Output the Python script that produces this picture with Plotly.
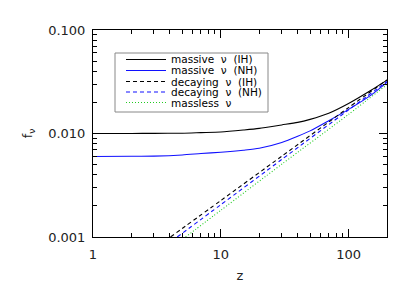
import plotly.graph_objects as go

# ---- data ----
z_massive = [1, 2, 3, 5, 7, 10, 15, 20, 30, 40, 50, 70, 100, 150, 200]
f_massive_IH = [0.0100, 0.01001, 0.01003, 0.01007, 0.0102, 0.01035, 0.0108, 0.0112,
                0.0121, 0.0128, 0.0137, 0.0157, 0.0195, 0.0262, 0.0328]
f_massive_NH = [0.0060, 0.00602, 0.00605, 0.0062, 0.0064, 0.0066, 0.0069, 0.0072,
                0.0082, 0.0094, 0.0106, 0.0133, 0.0171, 0.0235, 0.0312]

z_decay_IH = [4.04, 10, 30, 100, 200]
f_decay_IH = [0.0010, 0.00225, 0.00603, 0.0178, 0.0330]
z_decay_NH = [4.56, 10, 30, 100, 200]
f_decay_NH = [0.0010, 0.00205, 0.00561, 0.0169, 0.0318]
z_massless = [5.3, 10, 30, 100, 200]
f_massless = [0.0010, 0.00181, 0.00505, 0.0153, 0.0297]

labels = ["massive\u00a0\u00a0ν\u00a0\u00a0(IH)", "massive\u00a0\u00a0ν\u00a0\u00a0(NH)",
          "decaying\u00a0\u00a0ν\u00a0\u00a0(IH)", "decaying\u00a0\u00a0ν\u00a0\u00a0(NH)",
          "massless\u00a0\u00a0ν"]
colors = ["#000000", "#1010ff", "#000000", "#1010ff", "#22cc22"]
dashes = ["solid", "solid", "4px,3px", "4px,3px", "1px,2px"]

x_ticks = [1, 10, 100]
x_ticktext = ["1", "10", "100"]
x_minor = [2, 3, 4, 5, 6, 7, 8, 9, 20, 30, 40, 50, 60, 70, 80, 90, 200]
y_ticks = [0.001, 0.01, 0.1]
y_ticktext = ["0.001", "0.010", "0.100"]
y_minor = [0.002, 0.003, 0.004, 0.005, 0.006, 0.007, 0.008, 0.009,
           0.02, 0.03, 0.04, 0.05, 0.06, 0.07, 0.08, 0.09]

series = [(z_massive, f_massive_IH), (z_massive, f_massive_NH),
          (z_decay_IH, f_decay_IH), (z_decay_NH, f_decay_NH),
          (z_massless, f_massless)]

fig = go.Figure()
for (xs, ys), name, c, d in zip(series, labels, colors, dashes):
    fig.add_trace(go.Scatter(x=xs, y=ys, mode="lines", name=name,
                             line=dict(color=c, width=1.1, dash=d,
                                       shape="spline", smoothing=0.7),
                             showlegend=False))

# ---- layout geometry (pixels, in window coordinates; page body has 8px margin) ----
W, H = 415, 297
OFF = 8
L, R, T, B = 93 - OFF, 28 + OFF, 30 - OFF, 60 + OFF
pw, ph = W - L - R, H - T - B


def px(xp):
    return (xp - OFF - L) / pw


def py(yp):
    return (H - B - (yp - OFF)) / ph


shapes = []
annotations = []
# legend box
shapes.append(dict(type="rect", xref="paper", yref="paper",
                   x0=px(115), x1=px(268), y0=py(112), y1=py(53),
                   line=dict(color="#888888", width=1), fillcolor="white"))
row_y = [59.5, 70.5, 81.5, 92, 102.5]
for yy, name, c, d in zip(row_y, labels, colors, dashes):
    shapes.append(dict(type="line", xref="paper", yref="paper",
                       x0=px(126), x1=px(166), y0=py(yy), y1=py(yy),
                       line=dict(color=c, width=1.1, dash=d)))
    annotations.append(dict(xref="paper", yref="paper", x=px(169), y=py(yy),
                            text=name, showarrow=False, xanchor="left",
                            yanchor="middle",
                            font=dict(family="DejaVu Sans", size=10.5, color="black")))

axis_common = dict(type="log", ticks="inside", ticklen=8, tickwidth=1,
                   tickcolor="black", showline=True, linecolor="black",
                   linewidth=1, mirror="ticks", showgrid=False, zeroline=False,
                   tickfont=dict(family="DejaVu Sans", size=13, color="#222222"))

fig.update_layout(
    width=W, height=H,
    margin=dict(l=L, r=R, t=T, b=B),
    paper_bgcolor="white", plot_bgcolor="white",
    xaxis=dict(range=[0, 2.301], tickvals=x_ticks, ticktext=x_ticktext,
               minor=dict(tickvals=x_minor, ticks="inside", ticklen=4,
                          tickcolor="black", showgrid=False),
               ticklabelstandoff=5,
               title=dict(text="z", standoff=10,
                          font=dict(family="DejaVu Sans", size=13, color="#222222")),
               **axis_common),
    yaxis=dict(range=[-3, -1], tickvals=y_ticks, ticktext=y_ticktext,
               minor=dict(tickvals=y_minor, ticks="inside", ticklen=4,
                          tickcolor="black", showgrid=False),
               ticklabelstandoff=4,
               title=dict(text="f<sub>ν</sub>", standoff=12,
                          font=dict(family="DejaVu Sans", size=13, color="#222222")),
               **axis_common),
    shapes=shapes, annotations=annotations,
    showlegend=False,
)

fig.write_html("out.html")
